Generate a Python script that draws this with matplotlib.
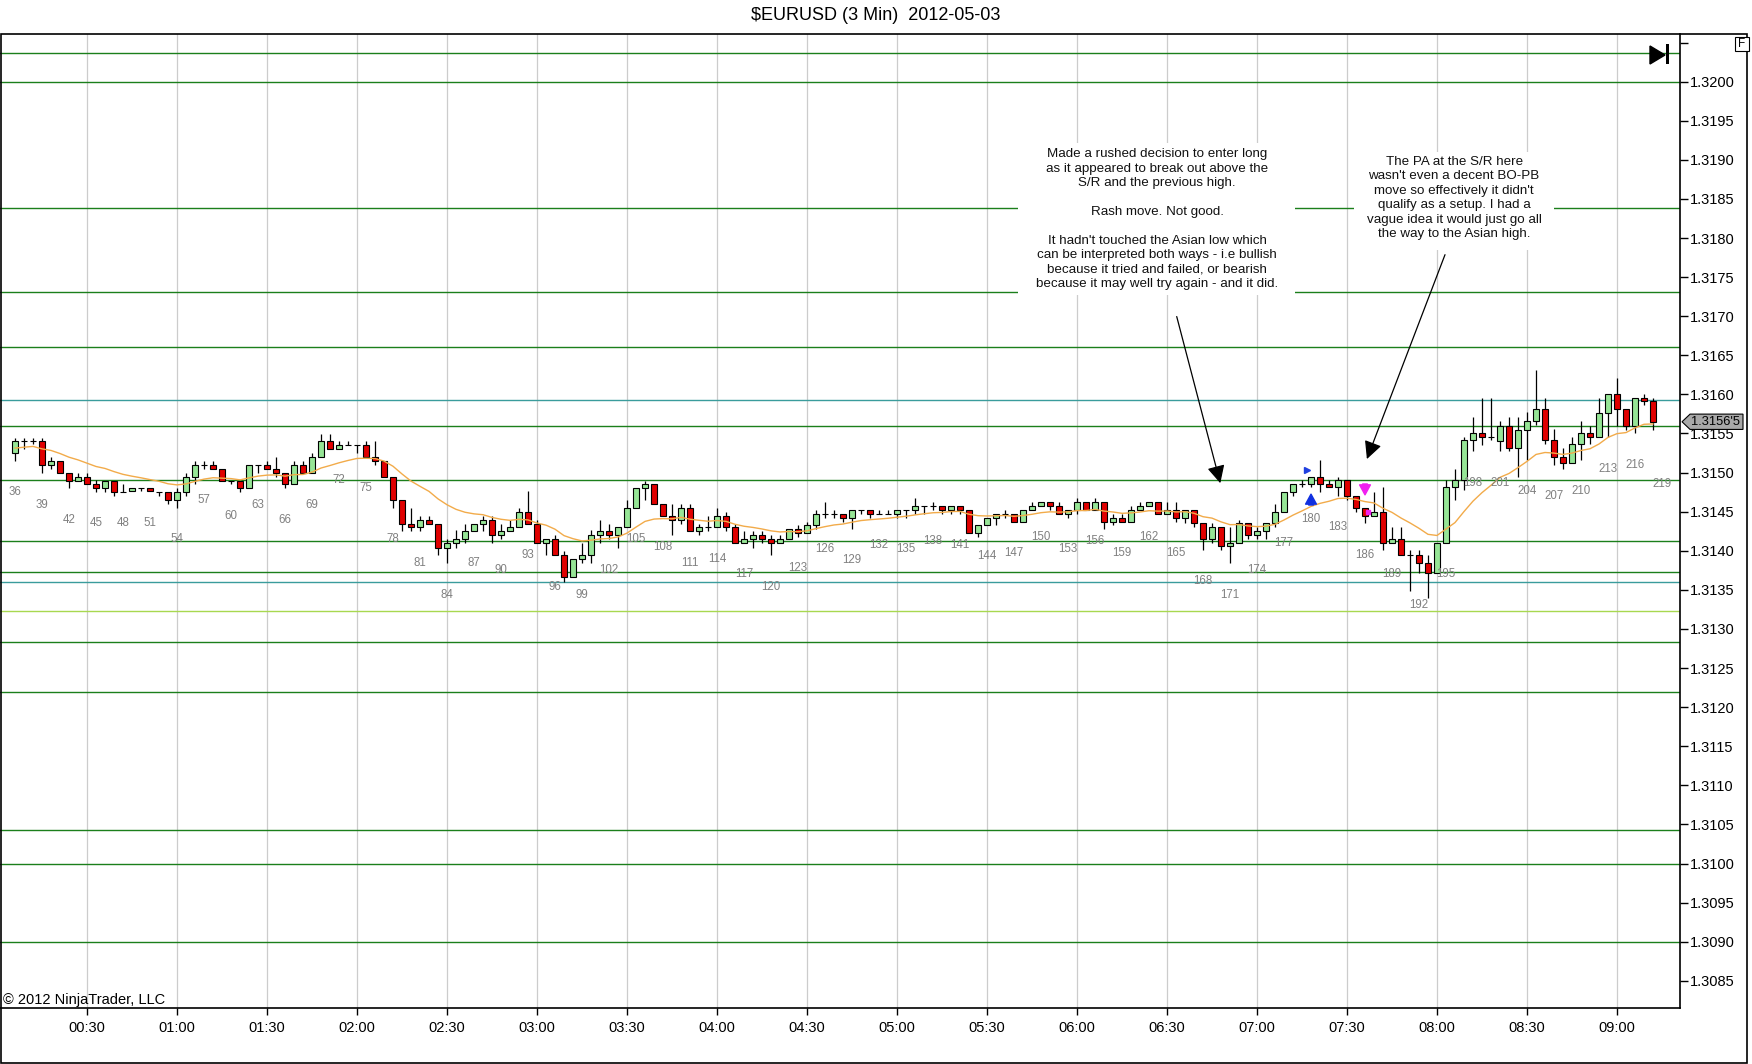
import matplotlib
matplotlib.use("Agg")
import matplotlib.pyplot as plt
from matplotlib.patches import Rectangle, Polygon
from matplotlib.transforms import blended_transform_factory

plt.rcParams['font.family'] = ['Liberation Sans', 'DejaVu Sans']

# 3 minute bars, bar 54 closes at 01:00
first_bar = 36
opens = [1.31525, 1.31540, 1.31540, 1.31540, 1.31510, 1.31515, 1.31499, 1.31489, 1.31494, 1.31485,
         1.31480, 1.31489, 1.31475, 1.31476, 1.31480, 1.31480, 1.31475, 1.31475, 1.31465, 1.31475,
         1.31494, 1.31510, 1.31510, 1.31505, 1.31489, 1.31489, 1.31480, 1.31510, 1.31510, 1.31505,
         1.31499, 1.31485, 1.31510, 1.31499, 1.31520, 1.31540, 1.31530, 1.31535, 1.31535, 1.31535,
         1.31520, 1.31515, 1.31494, 1.31465, 1.31434, 1.31430, 1.31439, 1.31434, 1.31404, 1.31410,
         1.31415, 1.31425, 1.31434, 1.31439, 1.31420, 1.31425, 1.31430, 1.31449, 1.31434, 1.31410,
         1.31415, 1.31394, 1.31366, 1.31390, 1.31394, 1.31420, 1.31425, 1.31420, 1.31430, 1.31455,
         1.31480, 1.31485, 1.31460, 1.31445, 1.31439, 1.31455, 1.31425, 1.31430, 1.31430, 1.31445,
         1.31430, 1.31410, 1.31415, 1.31420, 1.31415, 1.31410, 1.31415, 1.31428, 1.31423, 1.31433,
         1.31447, 1.31447, 1.31447, 1.31442, 1.31452, 1.31452, 1.31447, 1.31447, 1.31447, 1.31452,
         1.31452, 1.31457, 1.31457, 1.31457, 1.31452, 1.31457, 1.31452, 1.31423, 1.31433, 1.31442,
         1.31447, 1.31447, 1.31437, 1.31452, 1.31457, 1.31462, 1.31457, 1.31447, 1.31452, 1.31462,
         1.31452, 1.31462, 1.31437, 1.31442, 1.31437, 1.31452, 1.31457, 1.31462, 1.31447, 1.31452,
         1.31442, 1.31452, 1.31435, 1.31415, 1.31430, 1.31406, 1.31410, 1.31435, 1.31420, 1.31425,
         1.31435, 1.31450, 1.31475, 1.31486, 1.31486, 1.31494, 1.31486, 1.31481, 1.31490, 1.31470,
         1.31455, 1.31445, 1.31450, 1.31410, 1.31415, 1.31395, 1.31395, 1.31384, 1.31371, 1.31410,
         1.31481, 1.31490, 1.31542, 1.31550, 1.31545, 1.31540, 1.31560, 1.31531, 1.31555, 1.31566,
         1.31581, 1.31542, 1.31520, 1.31512, 1.31536, 1.31550, 1.31545, 1.31576, 1.31600, 1.31581,
         1.31560, 1.31596, 1.31591]
highs = [1.31544, 1.31544, 1.31544, 1.31544, 1.31520, 1.31515, 1.31499, 1.31499, 1.31499, 1.31490,
         1.31489, 1.31489, 1.31485, 1.31480, 1.31480, 1.31480, 1.31475, 1.31475, 1.31480, 1.31499,
         1.31515, 1.31515, 1.31515, 1.31505, 1.31489, 1.31489, 1.31510, 1.31510, 1.31515, 1.31520,
         1.31499, 1.31515, 1.31515, 1.31525, 1.31549, 1.31549, 1.31540, 1.31540, 1.31535, 1.31540,
         1.31540, 1.31515, 1.31494, 1.31465, 1.31455, 1.31445, 1.31445, 1.31434, 1.31415, 1.31426,
         1.31434, 1.31434, 1.31445, 1.31445, 1.31434, 1.31439, 1.31455, 1.31477, 1.31439, 1.31415,
         1.31420, 1.31400, 1.31390, 1.31410, 1.31426, 1.31439, 1.31434, 1.31430, 1.31465, 1.31480,
         1.31489, 1.31485, 1.31460, 1.31460, 1.31460, 1.31460, 1.31434, 1.31445, 1.31455, 1.31449,
         1.31434, 1.31425, 1.31425, 1.31425, 1.31420, 1.31420, 1.31428, 1.31433, 1.31437, 1.31452,
         1.31462, 1.31452, 1.31447, 1.31452, 1.31452, 1.31452, 1.31452, 1.31452, 1.31452, 1.31452,
         1.31467, 1.31457, 1.31462, 1.31457, 1.31457, 1.31457, 1.31452, 1.31433, 1.31442, 1.31447,
         1.31452, 1.31447, 1.31452, 1.31462, 1.31462, 1.31462, 1.31462, 1.31452, 1.31467, 1.31462,
         1.31467, 1.31462, 1.31447, 1.31447, 1.31457, 1.31462, 1.31462, 1.31462, 1.31462, 1.31462,
         1.31452, 1.31452, 1.31435, 1.31435, 1.31430, 1.31430, 1.31440, 1.31435, 1.31430, 1.31435,
         1.31460, 1.31475, 1.31486, 1.31490, 1.31494, 1.31516, 1.31490, 1.31494, 1.31490, 1.31470,
         1.31455, 1.31475, 1.31481, 1.31430, 1.31430, 1.31401, 1.31401, 1.31395, 1.31410, 1.31490,
         1.31505, 1.31545, 1.31571, 1.31596, 1.31596, 1.31566, 1.31571, 1.31571, 1.31577, 1.31631,
         1.31596, 1.31556, 1.31531, 1.31545, 1.31566, 1.31560, 1.31596, 1.31600, 1.31621, 1.31581,
         1.31596, 1.31600, 1.31596]
lows = [1.31515, 1.31530, 1.31537, 1.31499, 1.31505, 1.31499, 1.31480, 1.31489, 1.31485, 1.31475,
        1.31475, 1.31470, 1.31475, 1.31476, 1.31476, 1.31476, 1.31470, 1.31460, 1.31455, 1.31470,
        1.31485, 1.31505, 1.31505, 1.31489, 1.31485, 1.31475, 1.31480, 1.31499, 1.31505, 1.31494,
        1.31480, 1.31485, 1.31499, 1.31499, 1.31520, 1.31530, 1.31530, 1.31535, 1.31525, 1.31520,
        1.31510, 1.31494, 1.31455, 1.31425, 1.31425, 1.31425, 1.31434, 1.31394, 1.31384, 1.31404,
        1.31410, 1.31425, 1.31425, 1.31410, 1.31415, 1.31425, 1.31430, 1.31434, 1.31410, 1.31394,
        1.31394, 1.31360, 1.31366, 1.31384, 1.31384, 1.31410, 1.31415, 1.31404, 1.31430, 1.31455,
        1.31465, 1.31460, 1.31445, 1.31420, 1.31434, 1.31425, 1.31420, 1.31425, 1.31430, 1.31425,
        1.31410, 1.31410, 1.31404, 1.31410, 1.31394, 1.31410, 1.31415, 1.31418, 1.31423, 1.31428,
        1.31442, 1.31442, 1.31437, 1.31428, 1.31447, 1.31442, 1.31447, 1.31447, 1.31442, 1.31442,
        1.31447, 1.31447, 1.31452, 1.31447, 1.31447, 1.31447, 1.31423, 1.31418, 1.31433, 1.31433,
        1.31442, 1.31437, 1.31437, 1.31452, 1.31457, 1.31452, 1.31447, 1.31442, 1.31447, 1.31452,
        1.31452, 1.31428, 1.31433, 1.31437, 1.31437, 1.31452, 1.31457, 1.31447, 1.31447, 1.31437,
        1.31435, 1.31430, 1.31401, 1.31410, 1.31401, 1.31384, 1.31410, 1.31415, 1.31415, 1.31415,
        1.31430, 1.31450, 1.31470, 1.31481, 1.31481, 1.31475, 1.31481, 1.31470, 1.31465, 1.31450,
        1.31435, 1.31445, 1.31401, 1.31410, 1.31395, 1.31349, 1.31371, 1.31340, 1.31371, 1.31410,
        1.31465, 1.31478, 1.31527, 1.31535, 1.31542, 1.31527, 1.31527, 1.31495, 1.31516, 1.31561,
        1.31536, 1.31510, 1.31505, 1.31512, 1.31516, 1.31536, 1.31545, 1.31545, 1.31560, 1.31555,
        1.31550, 1.31586, 1.31555]
closes = [1.31540, 1.31540, 1.31540, 1.31510, 1.31515, 1.31499, 1.31489, 1.31494, 1.31485, 1.31480,
          1.31489, 1.31475, 1.31475, 1.31480, 1.31480, 1.31476, 1.31475, 1.31465, 1.31475, 1.31494,
          1.31510, 1.31510, 1.31505, 1.31489, 1.31489, 1.31480, 1.31510, 1.31510, 1.31505, 1.31499,
          1.31485, 1.31510, 1.31499, 1.31520, 1.31540, 1.31530, 1.31535, 1.31535, 1.31535, 1.31520,
          1.31515, 1.31494, 1.31465, 1.31434, 1.31430, 1.31439, 1.31434, 1.31404, 1.31410, 1.31415,
          1.31425, 1.31434, 1.31439, 1.31420, 1.31425, 1.31430, 1.31449, 1.31434, 1.31410, 1.31415,
          1.31394, 1.31366, 1.31390, 1.31394, 1.31420, 1.31425, 1.31420, 1.31430, 1.31455, 1.31480,
          1.31485, 1.31460, 1.31445, 1.31439, 1.31455, 1.31425, 1.31430, 1.31430, 1.31445, 1.31430,
          1.31410, 1.31415, 1.31420, 1.31415, 1.31410, 1.31415, 1.31428, 1.31423, 1.31433, 1.31447,
          1.31447, 1.31447, 1.31442, 1.31452, 1.31452, 1.31447, 1.31447, 1.31447, 1.31452, 1.31452,
          1.31457, 1.31457, 1.31457, 1.31452, 1.31457, 1.31452, 1.31423, 1.31433, 1.31442, 1.31447,
          1.31447, 1.31437, 1.31452, 1.31457, 1.31462, 1.31457, 1.31447, 1.31452, 1.31462, 1.31452,
          1.31462, 1.31437, 1.31442, 1.31437, 1.31452, 1.31457, 1.31462, 1.31447, 1.31452, 1.31442,
          1.31452, 1.31435, 1.31415, 1.31430, 1.31406, 1.31410, 1.31435, 1.31420, 1.31425, 1.31435,
          1.31450, 1.31475, 1.31486, 1.31486, 1.31494, 1.31486, 1.31481, 1.31490, 1.31470, 1.31455,
          1.31445, 1.31450, 1.31410, 1.31415, 1.31395, 1.31395, 1.31384, 1.31371, 1.31410, 1.31481,
          1.31490, 1.31542, 1.31550, 1.31545, 1.31545, 1.31560, 1.31531, 1.31555, 1.31566, 1.31581,
          1.31542, 1.31520, 1.31512, 1.31536, 1.31550, 1.31545, 1.31576, 1.31600, 1.31581, 1.31560,
          1.31596, 1.31592, 1.31565]

ema_seed = 1.31530
ema_span = 14

# horizontal S/R lines drawn on the chart
sr_levels = [1.32037, 1.32000, 1.31839, 1.31731, 1.31660, 1.31593, 1.31560, 1.31490,
             1.31413, 1.31373, 1.31360, 1.31323, 1.31283, 1.31220, 1.31043, 1.31000, 1.30900]
sr_colors = ['#1b7f1b', '#1b7f1b', '#1b7f1b', '#1b7f1b', '#1b7f1b', '#3a9c9c', '#1b7f1b', '#1b7f1b',
             '#1b7f1b', '#1b7f1b', '#3a9c9c', '#a8d850', '#1b7f1b', '#1b7f1b', '#1b7f1b', '#1b7f1b', '#1b7f1b']

count_labels = list(range(36, 220, 3))
extra_label_low = {219: 1.31526}

buy_signal = (180, 1.31455, 1.31476)
sell_signal = (186, 1.31489, 1.31468)

note1 = ("Made a rushed decision to enter long\nas it appeared to break out above the\n"
         "S/R and the previous high.\n\nRash move. Not good.\n\n"
         "It hadn't touched the Asian low which\ncan be interpreted both ways - i.e bullish\n"
         "because it tried and failed, or bearish\nbecause it may well try again - and it did.")
note2 = ("The PA at the S/R here\nwasn't even a decent BO-PB\nmove so effectively it didn't\n"
         "qualify as a setup. I had a\nvague idea it would just go all\nthe way to the Asian high.")

W, H = 1752, 1064
fig = plt.figure(figsize=(W / 100, H / 100), dpi=100)
ax = fig.add_axes([0, 1 - 1008 / H, 1680 / W, (1008 - 34) / H])

n = len(closes)
xs = list(range(first_bar, first_bar + n))

# S/R lines
for lvl, col in zip(sr_levels, sr_colors):
    ax.axhline(lvl, color=col, lw=1.0, zorder=1)

# wicks + bodies
ax.vlines(xs, lows, highs, color='black', lw=0.9, zorder=3)
up = [c >= o for o, c in zip(opens, closes)]
bottoms = [min(o, c) for o, c in zip(opens, closes)]
heights = [abs(c - o) for o, c in zip(opens, closes)]
ax.bar(xs, heights, bottom=bottoms, width=0.66,
       color=['#96e596' if u else '#e00000' for u in up],
       edgecolor='black', linewidth=0.8, zorder=4)

# EMA
ema = []
prev = ema_seed
alpha = 2 / (ema_span + 1)
for c in closes:
    prev = prev + alpha * (c - prev)
    ema.append(prev)
ax.plot(xs, ema, color='#f2ab4a', lw=1.0, zorder=5)

# bar counter
for k in count_labels:
    low = lows[k - first_bar] if k - first_bar < n else extra_label_low[k]
    ax.text(k, low - 0.0004, str(k), ha='center', va='center', fontsize=8.3,
            color='#808080', zorder=6)

# entry / exit marks
sig_style = 'simple,head_length=0.6,head_width=0.65,tail_width=0.28'
ax.annotate('', xy=(buy_signal[0], buy_signal[2]), xytext=(buy_signal[0], buy_signal[1]),
            arrowprops=dict(arrowstyle=sig_style, color='#1030e0', mutation_scale=12), zorder=7)
ax.plot(buy_signal[0] - 0.4, 1.31503, marker='>', ms=5, color='#2040e0', zorder=7)
ax.annotate('', xy=(sell_signal[0], sell_signal[2]), xytext=(sell_signal[0], sell_signal[1]),
            arrowprops=dict(arrowstyle=sig_style, color='#f020f0', mutation_scale=12), zorder=7)
ax.plot(sell_signal[0] + 0.3, 1.31450, marker='s', ms=3.5, color='#f020f0', zorder=7)

# notes with white backgrounds
ax.add_patch(Rectangle((147.4, 1.31727), 30.8, 0.00195, fc='white', ec='none', zorder=8))
ax.text(162.9, 1.31824, note1, ha='center', va='center', fontsize=9.6,
        linespacing=1.27, color='#111111', zorder=9)
ax.add_patch(Rectangle((184.8, 1.31785), 22.2, 0.00125, fc='white', ec='none', zorder=8))
ax.text(195.9, 1.31851, note2, ha='center', va='center', fontsize=9.6,
        linespacing=1.27, color='#111111', zorder=9)
ax.annotate('', xy=(170.0, 1.31483), xytext=(165.0, 1.31703),
            arrowprops=dict(arrowstyle='-|>,head_length=0.6,head_width=0.3', color='black',
                            lw=0.9, mutation_scale=18), zorder=9)
ax.annotate('', xy=(186.1, 1.31514), xytext=(195.0, 1.31782),
            arrowprops=dict(arrowstyle='-|>,head_length=0.6,head_width=0.3', color='black',
                            lw=0.9, mutation_scale=18), zorder=9)

# axes
ax.set_xlim(34.33, 221.0)
ax.set_ylim(1.308153, 1.320609)
tick_bars = [b for b in range(first_bar, first_bar + n) if (60 + (b - 54) * 3) % 30 == 0]
tick_names = ['%02d:%02d' % divmod(60 + (b - 54) * 3, 60) for b in tick_bars]
ax.set_xticks(tick_bars)
ax.set_xticklabels(tick_names)
ax.grid(axis='x', color='#cccccc', lw=0.9, zorder=0)
ax.set_axisbelow(True)
yt = [1.3085 + 0.0005 * i for i in range(25)]
ax.set_yticks(yt)
ax.set_yticklabels(['%.4f' % v if v < 1.32025 else '' for v in yt])
ax.yaxis.tick_right()
ax.tick_params(axis='y', direction='out', length=6, width=1, pad=1, labelsize=10.5)
ax.tick_params(axis='x', direction='out', length=5, width=1, pad=4, labelsize=10.5)
for s in ['left', 'top']:
    ax.spines[s].set_visible(False)
for s in ['right', 'bottom']:
    ax.spines[s].set_linewidth(1.2)

# last price marker
tr = blended_transform_factory(ax.transAxes, ax.transData)
last = closes[-1]
hh = 0.000098
ax.add_patch(Polygon([(1.0012, last), (1.0060, last + hh), (1.0375, last + hh),
                      (1.0375, last - hh), (1.0060, last - hh)], closed=True,
                     fc='#a8a8a8', ec='black', lw=0.8, transform=tr, clip_on=False, zorder=10))
ax.text(1.0066, last, "%.4f'%d" % (int(last * 1e4) / 1e4, round(last * 1e5) % 10),
        transform=tr, ha='left', va='center', fontsize=9.3, zorder=11, clip_on=False)

# frame, title, extras
fig.patches.append(Rectangle((1 / W, 1 - 1063 / H), 1746 / W, 1029 / H, transform=fig.transFigure,
                             fill=False, ec='black', lw=1.2))
fig.text(0.5, 1 - 16 / H, r'\$EURUSD (3 Min)  2012-05-03', ha='center', va='center', fontsize=13)
fig.text(3 / W, 1 - 1000 / H, '\u00a9 2012 NinjaTrader, LLC', ha='left', va='center', fontsize=10.5)
fig.patches.append(Polygon([(1650 / W, 1 - 46 / H), (1665 / W, 1 - 55 / H), (1650 / W, 1 - 64 / H)],
                           closed=True, fc='black', ec='black', transform=fig.transFigure))
fig.patches.append(Rectangle((1666 / W, 1 - 64 / H), 3 / W, 20 / H, fc='black', ec='none',
                             transform=fig.transFigure))
fig.patches.append(Rectangle((1735 / W, 1 - 51 / H), 14 / W, 14 / H, fc='white', ec='black', lw=0.8,
                             transform=fig.transFigure))
fig.text(1742 / W, 1 - 44 / H, 'F', ha='center', va='center', fontsize=8.5)

fig.savefig('out.png', dpi=100, facecolor='white')
